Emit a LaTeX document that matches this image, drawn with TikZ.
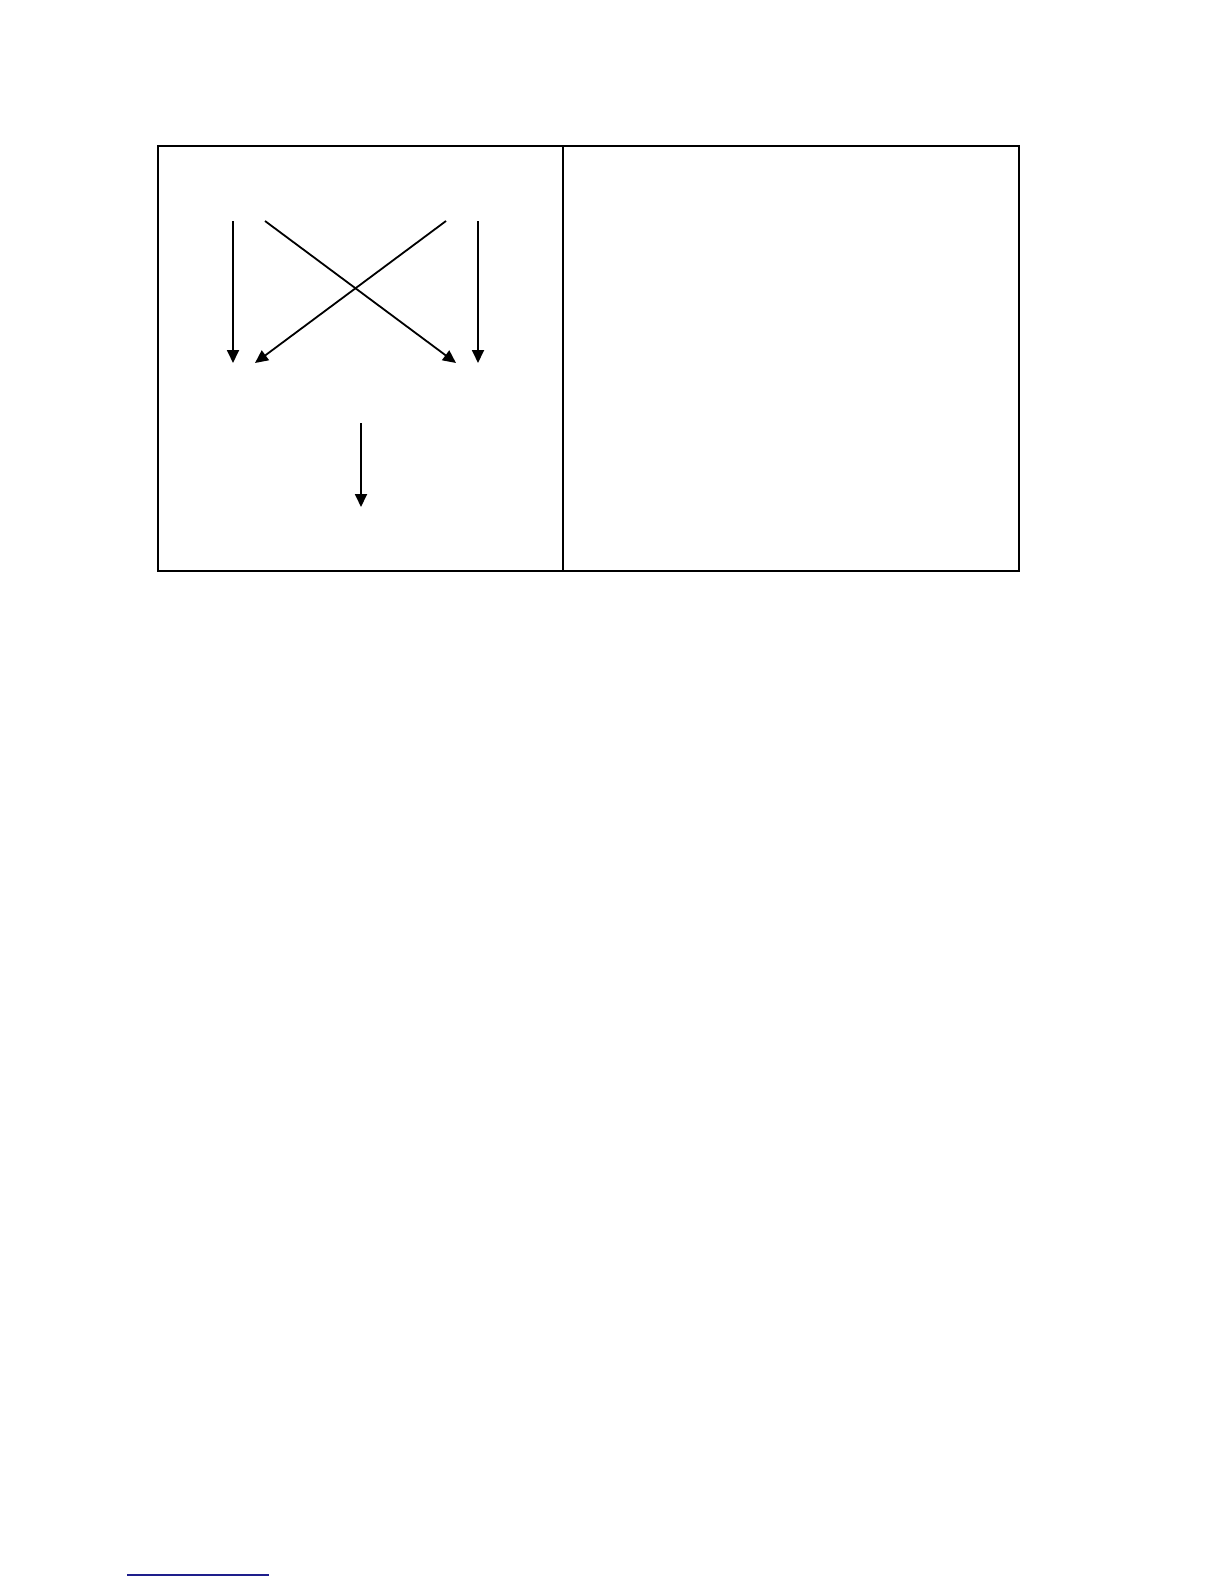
\documentclass[tikz,border=0pt]{standalone}
\usepackage{tikz}
\usetikzlibrary{arrows.meta}
\tikzset{
	cell/.style={draw,line width=0.8pt},
	flow/.style={-{Triangle[length=6.5pt,width=6pt]},line width=0.9pt}
}
\definecolor{rulecol}{RGB}{30,30,140}

\begin{document}
\begin{tikzpicture}[x=0.5pt,y=-0.5pt]
            \useasboundingbox (0,0) rectangle (1224,1584);
            % table with two cells
            \draw [cell] (158,146) rectangle (1019,571);
            \draw [cell] (563,146) -- (563,571);
            % ends of the arrows
            \coordinate (a1) at (233,221);
            \coordinate (a2) at (233,363);
            \coordinate (b1) at (265,221);
            \coordinate (b2) at (456,363);
            \coordinate (c1) at (446,221);
            \coordinate (c2) at (255,363);
            \coordinate (d1) at (478,221);
            \coordinate (d2) at (478,363);
            \coordinate (e1) at (361,423);
            \coordinate (e2) at (361,507);
            \draw [flow] (a1) -- (a2);
            \draw [flow] (b1) -- (b2);
            \draw [flow] (c1) -- (c2);
            \draw [flow] (d1) -- (d2);
            \draw [flow] (e1) -- (e2);
            % footnote rule
            \coordinate (f1) at (127,1575);
            \coordinate (f2) at (269,1575);
            \draw [rulecol,line width=0.7pt] (f1) -- (f2);
          \end{tikzpicture}
\end{document}
